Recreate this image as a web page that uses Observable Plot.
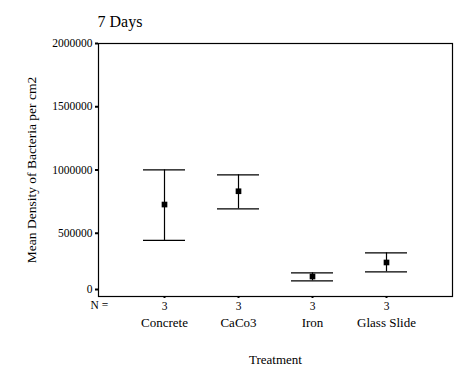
<!DOCTYPE html>
<html><head>
<meta charset="utf-8">
<script src="https://cdn.jsdelivr.net/npm/d3@7"></script>
<script src="https://cdn.jsdelivr.net/npm/@observablehq/plot@0.6"></script>
<style>body{margin:0;background:#fff}</style>
</head><body><div id="chart"></div>
<script>
const categories = ["Concrete", "CaCo3", "Iron", "Glass Slide"];
const means = [727000, 832000, 158000, 269000];
const lower = [443000, 693000, 124000, 195000];
const upper = [1001000, 962000, 187000, 345000];
const counts = [3, 3, 3, 3];
const yTicks = [500000, 1000000, 1500000, 2000000];
const zeroTick = [0];
const title = "7 Days";
const xLabel = "Treatment";
const yLabel = "Mean Density of Bacteria per cm2";
const nLabel = "N =";

const data = categories.map((c, i) => ({c, mean: means[i], lo: lower[i], hi: upper[i], n: counts[i]}));

const chart = Plot.plot({
  width: 472,
  height: 377,
  marginLeft: 98,
  marginRight: 20,
  marginTop: 43,
  marginBottom: 81,
  style: {fontFamily: "Liberation Serif", background: "white", color: "black"},
  x: {type: "band", domain: categories, paddingInner: 0.434, paddingOuter: 0.602, label: null},
  y: {domain: [0, 2000000], label: null},
  marks: [
    Plot.frame({stroke: "black", strokeWidth: 1.2}),
    Plot.axisY(yTicks, {tickSize: 3, tickPadding: 3, strokeWidth: 2, tickFormat: d => String(d), fontSize: 11.5, label: null}),
    Plot.axisY(zeroTick, {tickSize: 3, tickPadding: 3, strokeWidth: 2, tickFormat: d => String(d), fontSize: 11.5, dy: -7, label: null}),
    Plot.axisX({tickSize: 2, tickPadding: 3, strokeWidth: 2, fontSize: 11.5, tickFormat: d => String(counts[categories.indexOf(d)]), label: null}),
    Plot.axisX({tickSize: 0, tickPadding: 21, fontSize: 13, label: null}),
    Plot.text([nLabel], {frameAnchor: "bottom-left", dx: -8, dy: 9, textAnchor: "start", lineAnchor: "middle", fontSize: 11.5}),
    Plot.text([xLabel], {frameAnchor: "bottom", dy: 63, lineAnchor: "middle", fontSize: 13}),
    Plot.text([yLabel], {frameAnchor: "left", dx: -67, rotate: -90, textAnchor: "middle", fontSize: 13.5}),
    Plot.text([title], {frameAnchor: "top-left", dx: -1, dy: -22, textAnchor: "start", lineAnchor: "middle", fontSize: 16}),
    Plot.ruleX(data, {x: "c", y1: "lo", y2: "hi", stroke: "black", strokeWidth: 1.2}),
    Plot.tickY(data, {x: "c", y: "hi", stroke: "black", strokeWidth: 1.2}),
    Plot.tickY(data, {x: "c", y: "lo", stroke: "black", strokeWidth: 1.2}),
    Plot.dot(data, {x: "c", y: "mean", symbol: "square", r: 3.2, fill: "black", stroke: null})
  ]
});
document.getElementById("chart").appendChild(chart);
</script>
</body></html>
